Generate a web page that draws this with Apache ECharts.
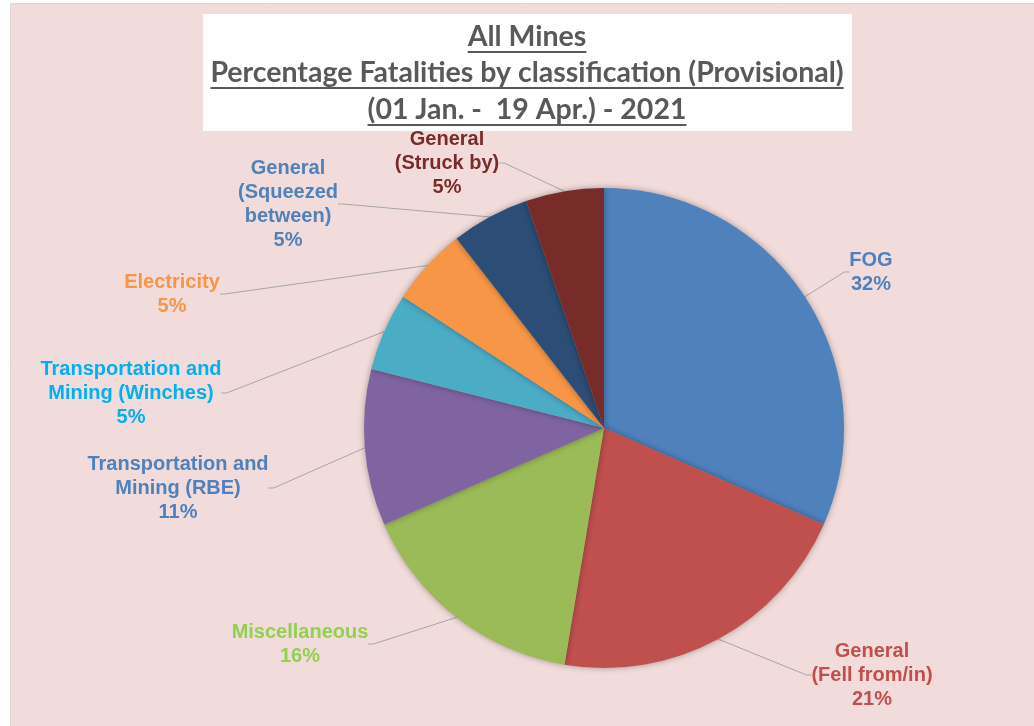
<!DOCTYPE html>
<html>
<head>
<meta charset="utf-8">
<script src="https://cdn.jsdelivr.net/npm/echarts@6/dist/echarts.min.js"></script>
<style>
  body { margin: 0; background: #fff; }
  #chart { width: 1034px; height: 726px; }
</style>
</head>
<body>
<div id="chart"></div>
<script>
// categories, clockwise from 12 o'clock
const categories = [
  'FOG',
  'General\n(Fell from/in)',
  'Miscellaneous',
  'Transportation and\nMining (RBE)',
  'Transportation and\nMining (Winches)',
  'Electricity',
  'General\n(Squeezed\nbetween)',
  'General\n(Struck by)'
];
// fatalities (gives 32% / 21% / 16% / 11% / 5% ...)
const values = [6, 4, 3, 2, 1, 1, 1, 1];
const titleLines = [
  'All Mines',
  'Percentage Fatalities by classification (Provisional)',
  '(01 Jan. -  19 Apr.) - 2021'
];

const sliceColors = ['#4F81BD', '#C0504D', '#9BBB59', '#8064A2', '#4BACC6', '#F79646', '#2C4D75', '#772C2A'];
const labelColors = ['#4F81BD', '#C0504D', '#92D050', '#4F81BD', '#00B0F0', '#F79646', '#4F81BD', '#772C2A'];
// label block centres (layout only)
const labelPos = [
  [871, 272], [872, 675], [300, 644], [178, 488],
  [131, 393], [172, 294], [288, 204], [447, 163]
];

const titleFont = 'bold 28.5px Lato';
const measure = document.createElement('canvas').getContext('2d');
measure.font = titleFont;

const titleX = 527;
const titleY = [37, 73, 110];
const titleGraphics = [];
titleLines.forEach((t, i) => {
  titleGraphics.push({
    type: 'text',
    x: titleX,
    y: titleY[i],
    style: {
      text: t,
      font: titleFont,
      fill: '#595959',
      align: 'center',
      verticalAlign: 'middle'
    },
    z: 10
  });
  const w = measure.measureText(t).width;
  titleGraphics.push({
    type: 'line',
    shape: { x1: titleX - w / 2, y1: titleY[i] + 15, x2: titleX + w / 2, y2: titleY[i] + 15 },
    style: { stroke: '#595959', lineWidth: 2 },
    z: 10
  });
});

const chart = echarts.init(document.getElementById('chart'));
const option = {
  animation: false,
  graphic: [
    {
      type: 'rect',
      shape: { x: 10.5, y: 3.5, width: 1040, height: 740 },
      style: { fill: '#F2DCDB', stroke: '#D9D9D9', lineWidth: 1 },
      z: -10
    },
    {
      type: 'rect',
      shape: { x: 203, y: 14, width: 649, height: 117 },
      style: { fill: '#FFFFFF' },
      z: 5
    },
    ...titleGraphics
  ],
  series: [{
    type: 'pie',
    center: [604, 428],
    radius: 240,
    startAngle: 90,
    clockwise: true,
    avoidLabelOverlap: false,
    data: categories.map((name, i) => ({
      name: name,
      value: values[i],
      itemStyle: { color: sliceColors[i] },
      label: { color: labelColors[i] }
    })),
    itemStyle: {
      shadowBlur: 6,
      shadowColor: 'rgba(0,0,0,0.35)'
    },
    label: {
      show: true,
      position: 'outside',
      formatter: (p) => p.name + '\n' + Math.round(p.percent) + '%',
      fontFamily: 'Liberation Sans',
      fontWeight: 'bold',
      fontSize: 20,
      lineHeight: 24
    },
    labelLine: {
      show: true,
      length: 20,
      length2: 5,
      lineStyle: { color: '#A6A6A6', width: 1 }
    },
    labelLayout: (p) => ({
      x: labelPos[p.dataIndex][0],
      y: labelPos[p.dataIndex][1],
      align: 'center',
      verticalAlign: 'middle'
    })
  }]
};
chart.setOption(option);
</script>
</body>
</html>
